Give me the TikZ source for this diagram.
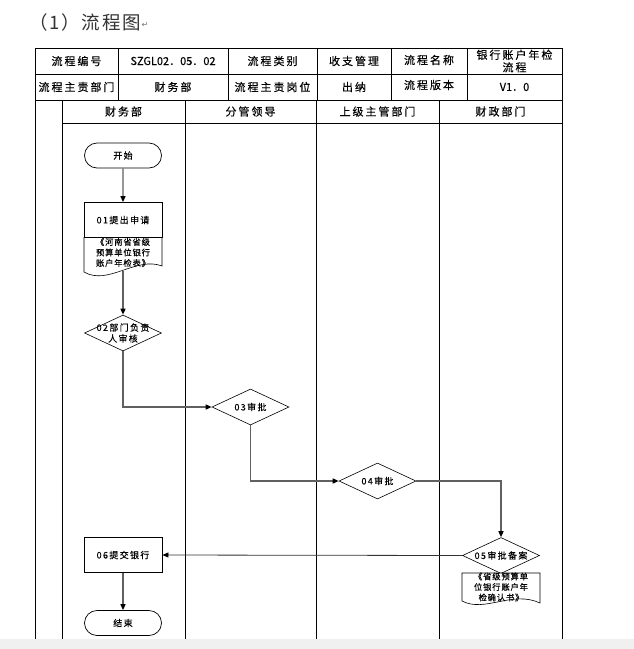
\documentclass[tikz,border=0pt]{standalone}
\usepackage{fontspec}
\newfontfamily\cjk[LetterSpace=15,FakeBold=0.2]{Noto Sans CJK SC}
\newfontfamily\cjkt[LetterSpace=18,FakeBold=0.25]{Noto Sans CJK SC}
\newfontfamily\cjkd[LetterSpace=10,FakeBold=0.2]{Noto Sans CJK SC}
\newfontfamily\cjkn[FakeBold=0.25]{Noto Sans CJK SC}
\newfontfamily\cjktitle[LetterSpace=10]{Noto Sans CJK SC}
\newfontfamily\dejavu{DejaVu Sans}
\usetikzlibrary{arrows.meta,shapes.geometric,shapes.misc}
\definecolor{band}{HTML}{F0F0F0}
\definecolor{conncol}{HTML}{606060}
\begin{document}
\begin{tikzpicture}[x=1pt,y=-1pt,
  tline/.style={line width=1pt,black},
  ttxt/.style={font=\cjkt\fontsize{11}{12.5}\selectfont,inner sep=0pt,align=center},
  ltxt/.style={font=\cjkn\fontsize{11}{12.5}\selectfont,inner sep=0pt,align=center},
  ntxt/.style={font=\cjk\fontsize{9}{11}\selectfont,inner sep=0pt,align=center},
  dtxt/.style={font=\cjkd\fontsize{8.3}{10.5}\selectfont,inner sep=0pt,align=center},
  term/.style={rounded rectangle,draw,line width=0.7pt,minimum width=77pt,minimum height=25pt,inner sep=0pt,font=\cjk\fontsize{9}{11}\selectfont},
  proc/.style={rectangle,draw,line width=0.8pt,minimum width=78pt,minimum height=35pt,inner sep=0pt,font=\cjk\fontsize{9}{11}\selectfont},
  dia/.style={diamond,draw,line width=0.6pt,minimum width=77pt,minimum height=36pt,inner sep=0pt},
  docshape/.style={draw,line width=0.6pt,fill=white},
  conn/.style={draw=conncol,line width=1.4pt,-{Triangle[color=black,length=6pt,width=5pt]}},
  conn2/.style={draw=black!80,line width=0.8pt,-{Triangle[color=black,length=6pt,width=5pt]}}
]
\useasboundingbox (0,0) rectangle (634,649);
\fill[white] (0,0) rectangle (634,649);
\fill[band] (0,639) rectangle (634,649);

% title
\node[anchor=west,inner sep=0pt,font=\cjktitle\fontsize{18.5}{20}\selectfont,text=black!80] (title) at (29,22) {（1）流程图};
\node[anchor=west,inner sep=0pt,font=\dejavu\fontsize{8}{9}\selectfont,text=black!55] (pmark) at ([yshift=-3pt]title.east) {↵};

% header table
\draw[tline] (35,48) rectangle (562,100);
\draw[tline] (35,74) -- (562,74);
\foreach \x in {118,228,317,391,467} \draw[tline] (\x,48) -- (\x,100);

% swimlanes
\draw[tline] (35,100) -- (35,639);
\draw[tline] (562,100) -- (562,639);
\foreach \x in {62,185,316,439} \draw[tline] (\x,100) -- (\x,639);
\draw[tline] (62,123) -- (562,123);

% table texts
\node[ttxt] (t11) at (76.5,61) {流程编号};
\node[ltxt] (t12) at (173,61) {SZGL02．05．02};
\node[ttxt] (t13) at (272.5,61) {流程类别};
\node[ttxt] (t14) at (354,61) {收支管理};
\node[ttxt] (t15) at (429,60) {流程名称};
\node[ttxt] (t16) at (514.5,61) {银行账户年检\\流程};
\node[ttxt] (t21) at (76.5,87) {流程主责部门};
\node[ttxt] (t22) at (173,87) {财务部};
\node[ttxt] (t23) at (272.5,87) {流程主责岗位};
\node[ttxt] (t24) at (354,87) {出纳};
\node[ttxt] (t25) at (429,85) {流程版本};
\node[ltxt] (t26) at (514.5,87) {V1．0};
\node[ttxt] (h1) at (123.5,111.5) {财务部};
\node[ttxt] (h2) at (250.5,111.5) {分管领导};
\node[ttxt] (h3) at (377.5,111.5) {上级主管部门};
\node[ttxt] (h4) at (500.5,111.5) {财政部门};

% flow nodes
\node[term] (start) at (123,155.5) {开始};
\node[proc] (s01) at (123,220) {01提出申请};
\draw[docshape] (84,237.5) -- (84,272) .. controls (108,286) and (136,256) .. (162,266) -- (162,237.5) -- cycle;
\node[dtxt] (d01) at (123,252.5) {《河南省省级\\预算单位银行\\账户年检表》};
\coordinate (d01b) at (123,271);

\node[dia] (n02) at (123,333) {};
\node[ntxt] (n02t) at (123,333) {02部门负责\\人审核};
\node[dia] (n03) at (250.5,407) {};
\node[ntxt] (n03t) at (250.5,407) {03审批};
\node[dia] (n04) at (377.5,481) {};
\node[ntxt] (n04t) at (377.5,481) {04审批};
\node[dia] (n05) at (501,555.5) {};
\node[ntxt] (n05t) at (501,555.5) {05审批备案};
\draw[docshape] (462,573) -- (462,601) .. controls (485,613) and (512,590) .. (540,603) -- (540,573) -- cycle;
\node[dtxt] (d05) at (501,587) {《省级预算单\\位银行账户年\\检确认书》};

\node[proc] (s06) at (123,555) {06提交银行};
\node[term] (end) at (123,623) {结束};

% connectors
\draw[conn] (start) -- (s01);
\draw[conn] (d01b) -- (n02.north);
\draw[conn] (n02.south) |- (n03.west);
\draw[conn] (n03.south) |- (n04.west);
\draw[conn] (n04.east) -| (n05.north);
\draw[conn2] (n05.west) -- (s06.east);
\draw[conn] (s06) -- (end);
\end{tikzpicture}
\end{document}
